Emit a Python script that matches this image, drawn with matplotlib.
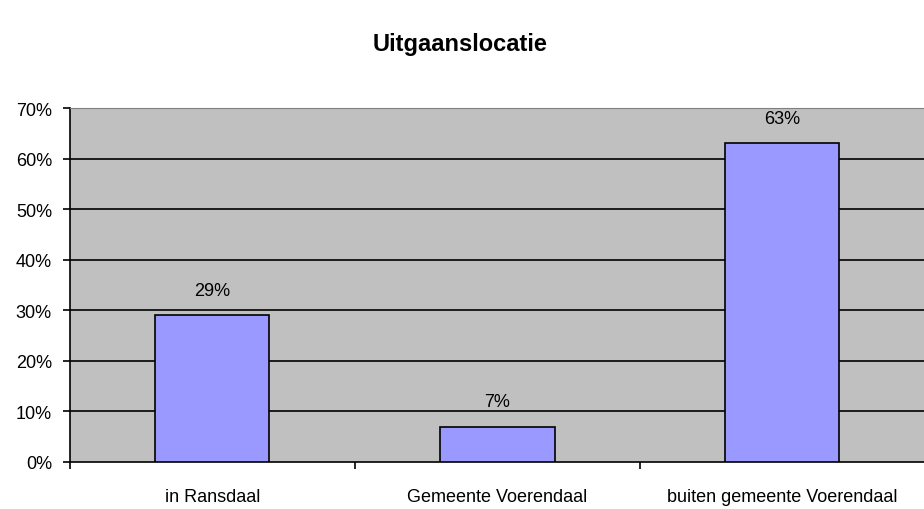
import numpy as np
import matplotlib.pyplot as plt

categories = ['in Ransdaal', 'Gemeente Voerendaal', 'buiten gemeente Voerendaal']
values = [29, 7, 63]
yticks = [0, 10, 20, 30, 40, 50, 60, 70]

plt.rcParams['font.family'] = ['Liberation Sans', 'DejaVu Sans']

fig = plt.figure(figsize=(9.24, 5.10), dpi=100)
ax = fig.add_axes([70 / 924, 1 - 463 / 510, 855 / 924, 354 / 510])
ax.set_facecolor('#c0c0c0')

x = np.arange(len(categories))
bars = ax.bar(x, values, width=0.4, color='#9999ff', edgecolor='black', linewidth=1.2, zorder=3)
for b, v in zip(bars, values):
    ax.annotate(f'{v}%', (b.get_x() + b.get_width() / 2, v), xytext=(0, 12),
                textcoords='offset points', ha='center', va='bottom', fontsize=13)

ax.set_xlim(-0.5, len(categories) - 0.5)
ax.set_ylim(0, 70)
ax.set_yticks(yticks)
ax.set_yticklabels([f'{t}%' for t in yticks], fontsize=13)
for t in yticks[1:-1]:
    ax.axhline(t, color='black', linewidth=1.2, zorder=1)

ax.set_xticks(x)
ax.set_xticklabels(categories, fontsize=13)
ax.set_xticks(np.arange(len(categories) + 1) - 0.5, minor=True)
ax.tick_params(axis='x', which='major', length=0, pad=19)
ax.tick_params(axis='x', which='minor', length=5, width=1.2, direction='out')
ax.tick_params(axis='y', length=5, width=1.2, direction='out', pad=8)

ax.spines['left'].set_linewidth(1.2)
ax.spines['bottom'].set_linewidth(1.2)
ax.spines['top'].set_color('#808080')
ax.spines['right'].set_visible(False)

fig.text(460 / 924, 1 - 45 / 510, 'Uitgaanslocatie', ha='center', va='center',
         fontsize=17, fontweight='bold')

fig.savefig('out.png', dpi=100)
